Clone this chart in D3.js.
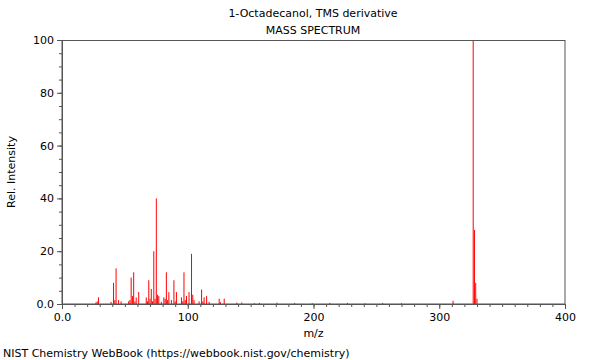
<!DOCTYPE html>
<html>
<head>
<meta charset="utf-8">
<script src="https://cdn.jsdelivr.net/npm/d3@7"></script>
<style>
  html, body { margin: 0; padding: 0; background: #fff; }
  svg { display: block; }
  text { font-family: "DejaVu Sans", sans-serif; fill: #000; }
</style>
</head>
<body>
<script>
// ---- Data ----
const title = "1-Octadecanol, TMS derivative";
const subtitle = "MASS SPECTRUM";
const xLabel = "m/z";
const yLabel = "Rel. Intensity";
const footer = "NIST Chemistry WebBook (https://webbook.nist.gov/chemistry)";

const mz = [27, 28, 29, 39, 41, 42, 43, 45, 47, 53, 54, 55, 56, 57, 58, 59, 61,
  67, 68, 69, 70, 71, 72, 73, 74, 75, 76, 77, 79, 81, 82, 83, 84, 85, 87, 89, 90, 91,
  95, 96, 97, 98, 99, 101, 103, 104, 105, 109, 111, 112, 113, 115, 117, 125, 126, 129,
  139, 143, 153, 157, 171, 185, 199, 213, 227, 241, 255, 270, 311, 327, 328, 329, 330];
const intensity = [0.6, 1.0, 2.5, 0.8, 8, 1.5, 13.5, 1.5, 1.0, 1.0, 1.5, 10, 3, 12, 1, 2.5, 4.5,
  2.5, 1, 9, 2, 5.7, 1, 20, 2, 40, 3.5, 3, 0.8, 2.5, 2, 12, 1.5, 4.5, 1.5, 9, 1, 4.5,
  2.5, 1, 12, 1.5, 3, 4.5, 19, 3.5, 1.5, 1, 5.5, 1, 2.5, 3, 0.8, 2, 0.7, 2,
  0.5, 0.6, 0.3, 0.4, 0.5, 0.4, 0.3, 0.4, 0.4, 0.3, 0.4, 0.3, 1.2, 100, 28, 8, 2];

const xMajorTicks = [0, 100, 200, 300, 400];
const xTickLabels = ["0.0", "100", "200", "300", "400"];
const yMajorTicks = [0, 20, 40, 60, 80, 100];
const yTickLabels = ["0.0", "20", "40", "60", "80", "100"];

// ---- Layout ----
const W = 600, H = 360;
const m = { left: 62, right: 35, top: 40, bottom: 56 };
const pw = W - m.left - m.right;   // 503
const ph = H - m.top - m.bottom;   // 264

const svg = d3.select("body").append("svg").attr("width", W).attr("height", H);

const x = d3.scaleLinear().domain([0, 400]).range([m.left, m.left + pw]);
const y = d3.scaleLinear().domain([0, 100]).range([m.top + ph, m.top]);

const axisColor = "#555";

// Titles
svg.append("text").attr("x", 313).attr("y", 17).attr("text-anchor", "middle")
  .style("font-size", "11px").text(title);
svg.append("text").attr("x", 313).attr("y", 34).attr("text-anchor", "middle")
  .style("font-size", "11px").text(subtitle);

// Peaks
const peaks = mz.map((d, i) => ({ mz: d, v: intensity[i] }));
svg.append("g").selectAll("line").data(peaks).join("line")
  .attr("x1", d => x(d.mz)).attr("x2", d => x(d.mz))
  .attr("y1", y(0)).attr("y2", d => y(d.v))
  .attr("stroke", "#ff0000").attr("stroke-width", 1);

// Frame
svg.append("rect").attr("x", m.left).attr("y", m.top + 0.5).attr("width", pw).attr("height", ph - 0.5)
  .attr("fill", "none").attr("stroke", axisColor).attr("stroke-width", 1);

// X axis
const xAxisG = svg.append("g").attr("transform", `translate(0,${y(0)})`);
xAxisG.call(d3.axisBottom(x).tickValues(d3.range(0, 401, 10)).tickSize(3).tickFormat(""));
xAxisG.call(g => g.selectAll(".tick line").attr("stroke", axisColor));
xAxisG.call(g => g.select(".domain").attr("stroke", axisColor));
const xMajG = svg.append("g").attr("transform", `translate(0,${y(0)})`);
xMajG.call(d3.axisBottom(x).tickValues(xMajorTicks).tickSize(5)
  .tickFormat((d, i) => xTickLabels[i]));
xMajG.call(g => g.select(".domain").remove());
xMajG.call(g => g.selectAll(".tick line").attr("stroke", axisColor));
xMajG.call(g => g.selectAll(".tick text").style("font-size", "11px")
  .style("font-family", "DejaVu Sans, sans-serif").attr("fill", "#000").attr("y", 9));

// Y axis
const yAxisG = svg.append("g").attr("transform", `translate(${m.left},0)`);
yAxisG.call(d3.axisLeft(y).tickValues(d3.range(0, 101, 5)).tickSize(3).tickFormat(""));
yAxisG.call(g => g.selectAll(".tick line").attr("stroke", axisColor));
yAxisG.call(g => g.select(".domain").attr("stroke", axisColor));
const yMajG = svg.append("g").attr("transform", `translate(${m.left},0)`);
yMajG.call(d3.axisLeft(y).tickValues(yMajorTicks).tickSize(5)
  .tickFormat((d, i) => yTickLabels[i]));
yMajG.call(g => g.select(".domain").remove());
yMajG.call(g => g.selectAll(".tick line").attr("stroke", axisColor));
yMajG.call(g => g.selectAll(".tick text").style("font-size", "11px")
  .style("font-family", "DejaVu Sans, sans-serif").attr("fill", "#000").attr("x", -8));

// Axis labels
svg.append("text").attr("x", x(200)).attr("y", 337).attr("text-anchor", "middle")
  .style("font-size", "11px").text(xLabel);
svg.append("text").attr("transform", `translate(15,${y(50)}) rotate(-90)`)
  .attr("text-anchor", "middle").style("font-size", "11px").text(yLabel);

// Footer
svg.append("text").attr("x", 3).attr("y", 357).style("font-size", "11px").text(footer);
</script>
</body>
</html>
